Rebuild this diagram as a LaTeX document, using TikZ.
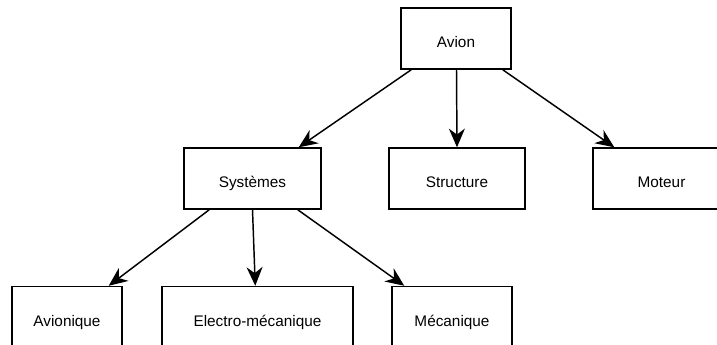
\documentclass[tikz,border=0pt]{standalone}
\usepackage{fontspec}
\setmainfont{Liberation Sans}
\usetikzlibrary{arrows.meta,calc}

\tikzset{
  box/.style={draw=black, line width=1.1pt, fill=white, rectangle,
    inner sep=0pt, minimum height=61*0.75pt,
    text height=14pt, text depth=0pt,
    font=\fontsize{11.5}{13}\selectfont},
  link/.style={draw=black, line width=1.1pt,
    -{Stealth[length=14pt,width=12pt,inset=4.5pt]}}
}

\begin{document}
\begin{tikzpicture}[x=0.75pt,y=-0.75pt]
  \useasboundingbox (0,0) rectangle (717,344);
  \clip (0,0) rectangle (717,344);
  \fill[white] (0,0) rectangle (717,344);

  % top level
  \node[box, minimum width=110*0.75pt] (av) at (456,38.5) {Avion};

  % second level
  \node[box, minimum width=137*0.75pt] (sy) at (252.5,178.5) {Systèmes};
  \node[box, minimum width=136*0.75pt] (st) at (457,178.5) {Structure};
  \node[box, minimum width=137*0.75pt] (mo) at (661.5,178.5) {Moteur};

  % third level
  \node[box, minimum width=110*0.75pt] (ai) at (67,317) {Avionique};
  \node[box, minimum width=191*0.75pt] (el) at (257.5,317) {Electro-mécanique};
  \node[box, minimum width=120*0.75pt] (me) at (452,317) {Mécanique};

  % connectors from Avion
  \draw[link] ($(av.south west)+(11,0)$) -- ($(sy.north east)+(-23,0)$);
  \draw[link] ($(av.south)+(0.5,0)$) -- (st.north);
  \draw[link] ($(av.south east)+(-9,0)$) -- ($(mo.north west)+(22,0)$);

  % connectors from Systèmes
  \draw[link] ($(sy.south west)+(26,0)$) -- ($(ai.north east)+(-14,0)$);
  \draw[link] (sy.south) -- ($(el.north west)+(94,0)$);
  \draw[link] ($(sy.south east)+(-24,0)$) -- ($(me.north west)+(13,0)$);
\end{tikzpicture}
\end{document}
